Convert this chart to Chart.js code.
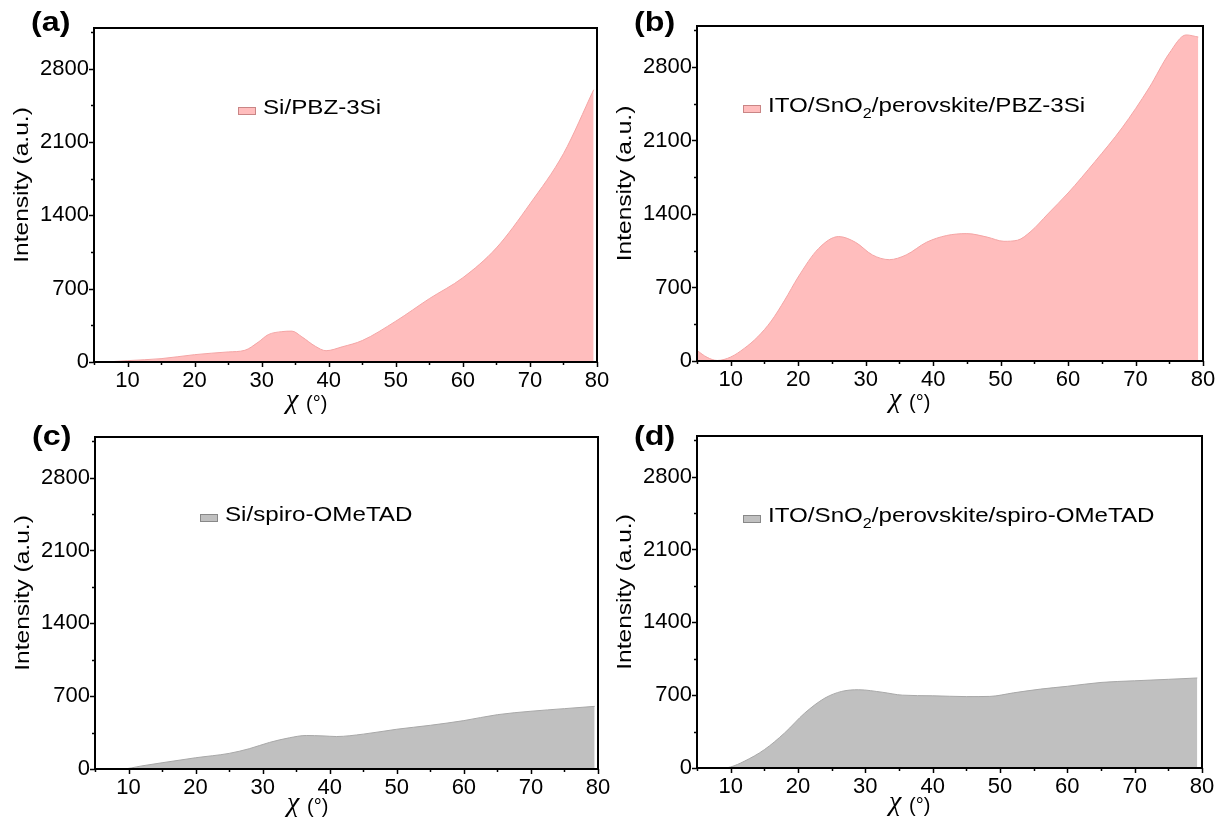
<!DOCTYPE html>
<html>
<head>
<meta charset="utf-8">
<script src="https://cdn.jsdelivr.net/npm/chart.js@4.4.0/dist/chart.umd.min.js"></script>
<style>
  body { margin: 0; background: #fff; width: 1225px; height: 830px; position: relative; overflow: hidden; }
  canvas { position: absolute; }
</style>
</head>
<body>
<canvas id="cA" width="612" height="422" style="left:0;top:0"></canvas>
<canvas id="cB" width="613" height="422" style="left:612px;top:0"></canvas>
<canvas id="cC" width="612" height="415" style="left:0;top:415px"></canvas>
<canvas id="cD" width="613" height="415" style="left:612px;top:415px"></canvas>
<script>
// tick labels
const chiTicks = [10, 20, 30, 40, 50, 60, 70, 80];
const intTicks = [0, 700, 1400, 2100, 2800];

// (a) Si/PBZ-3Si
const chiA = [6, 8, 10, 15, 20, 25, 27.5, 29.5, 31, 33, 34.5, 36, 38, 39.6, 42, 45, 50, 55, 60, 65, 70, 75, 79.5];
const intA = [0, 5, 13, 32, 70, 96, 112, 190, 262, 290, 295, 240, 150, 108, 145, 205, 390, 605, 805, 1090, 1510, 1990, 2600];

// (b) ITO/SnO2/perovskite/PBZ-3Si
const chiB = [5, 6.5, 8, 10, 12, 14, 16, 18, 20, 23, 26, 28.5, 31, 33.5, 36, 39, 42, 45, 48, 50.5, 52.5, 54.5, 57, 60, 64, 68, 72, 75, 77.5, 79.3];
const intB = [100, 35, 5, 38, 120, 230, 380, 580, 800, 1070, 1185, 1130, 1010, 965, 1010, 1130, 1195, 1213, 1180, 1140, 1150, 1235, 1400, 1600, 1900, 2220, 2600, 2930, 3105, 3085];

// (c) Si/spiro-OMeTAD
const chiC = [5, 9, 12, 15, 20, 25, 28, 31, 34, 36.5, 39, 41, 45, 50, 55, 60, 65, 70, 75, 79.5];
const intC = [0, 0, 30, 60, 108, 150, 195, 255, 300, 322, 318, 312, 335, 382, 420, 465, 522, 555, 580, 602];

// (d) ITO/SnO2/perovskite/spiro-OMeTAD
const chiD = [5, 9, 10, 12, 15, 18, 21, 24, 26.5, 29, 32.5, 35.5, 40, 45, 48.5, 52, 56, 60, 65, 70, 75, 79.3];
const intD = [0, 0, 10, 64, 176, 336, 528, 672, 736, 752, 728, 700, 694, 686, 688, 722, 758, 785, 822, 838, 852, 865];

const FONT = '"Liberation Sans", Arial, sans-serif';
const PINK = '#FFBDBD', GRAY = '#C0C0C0';

function stretchText(ctx, text, x, y, sx) {
  ctx.save();
  ctx.translate(x, y);
  ctx.scale(sx, 1);
  ctx.fillText(text, 0, 0);
  ctx.restore();
  return ctx.measureText(text).width * sx;
}

const decor = {
  id: 'decor',
  afterDraw(chart, args, o) {
    const { ctx, chartArea: a, scales } = chart;
    const xs = scales.x, ys = scales.y;
    ctx.save();
    ctx.strokeStyle = '#000';
    ctx.fillStyle = '#000';
    ctx.lineWidth = 1.5;
    // ticks (major + minor)
    for (let v = 5; v <= 80; v += 5) {
      const px = Math.round(xs.getPixelForValue(v)) + 0.5;
      const len = chiTicks.includes(v) ? 5 : 3;
      ctx.beginPath(); ctx.moveTo(px, a.bottom); ctx.lineTo(px, a.bottom + len); ctx.stroke();
    }
    for (let v = 0; v <= 3150; v += 350) {
      const py = Math.round(ys.getPixelForValue(v)) + 0.5;
      const len = intTicks.includes(v) ? 5 : 3;
      ctx.beginPath(); ctx.moveTo(a.left - len, py); ctx.lineTo(a.left, py); ctx.stroke();
    }
    // frame
    ctx.lineWidth = 2;
    ctx.strokeRect(a.left, a.top, a.right - a.left, a.bottom - a.top);

    // panel label
    ctx.textAlign = 'left';
    ctx.textBaseline = 'alphabetic';
    ctx.font = 'bold 28px ' + FONT;
    stretchText(ctx, o.label, a.left - 63, o.labelY, 1.15);

    // y title
    ctx.save();
    ctx.translate(a.left - 72, (a.top + a.bottom) / 2 - 10);
    ctx.rotate(-Math.PI / 2);
    ctx.font = '21px ' + FONT;
    ctx.textAlign = 'center';
    ctx.textBaseline = 'middle';
    ctx.scale(1.17, 1);
    ctx.fillText('Intensity (a.u.)', 0, 0);
    ctx.restore();

    // x title
    ctx.textAlign = 'left';
    ctx.font = 'italic 28px "Liberation Serif", serif';
    const xb = a.bottom + o.xTitleDy;
    ctx.fillText('\u03C7', a.left + 192, xb);
    ctx.font = '20px ' + FONT;
    ctx.fillText('(\u00B0)', a.left + 212, xb + 2);

    // legend
    const lx = a.left + o.legendDx, lb = a.top + o.legendDy;
    ctx.fillStyle = o.fill;
    ctx.fillRect(lx, lb - 7, 18, 8);
    ctx.lineWidth = 1;
    ctx.strokeStyle = o.edge;
    ctx.strokeRect(lx + 0.5, lb - 6.5, 17, 7);
    ctx.fillStyle = '#000';
    ctx.font = '21px ' + FONT;
    let tx = lx + 25;
    o.legend.forEach((part, i) => {
      if (i % 2 === 1) {
        ctx.font = '14px ' + FONT;
        tx += stretchText(ctx, part, tx, lb + 6, 1.15);
        ctx.font = '21px ' + FONT;
      } else {
        tx += stretchText(ctx, part, tx, lb, 1.15);
      }
    });
    ctx.restore();
  }
};

function makeChart(id, chi, inten, cfg) {
  const canvas = document.getElementById(id);
  const W = canvas.width, H = canvas.height;
  const a = cfg.area;
  return new Chart(canvas, {
    type: 'line',
    data: {
      datasets: [{
        data: chi.map((x, i) => ({ x: x, y: inten[i] })),
        fill: 'origin',
        backgroundColor: cfg.fill,
        borderColor: cfg.line,
        borderWidth: 1,
        pointRadius: 0,
        cubicInterpolationMode: 'monotone'
      }]
    },
    options: {
      responsive: false,
      animation: false,
      layout: { padding: { top: a.top, right: W - a.right, left: 0, bottom: 0 } },
      plugins: {
        legend: { display: false },
        tooltip: { enabled: false },
        decor: {
          label: cfg.label, labelY: cfg.labelY, xTitleDy: cfg.xTitleDy,
          legend: cfg.legend, legendDx: cfg.legendDx, legendDy: cfg.legendDy,
          fill: cfg.fill, edge: cfg.edge
        }
      },
      scales: {
        x: {
          type: 'linear', min: 5, max: 80,
          afterBuildTicks: s => { s.ticks = chiTicks.map(v => ({ value: v })); },
          afterFit: s => { s.height = H - a.bottom; },
          border: { display: false },
          grid: { drawOnChartArea: false, color: 'transparent', tickLength: 5 },
          ticks: { autoSkip: false, maxRotation: 0, padding: 1, color: '#000', font: { family: FONT, size: 22 },
                   callback: v => String(v) }
        },
        y: {
          type: 'linear', min: 0, max: 3190,
          afterBuildTicks: s => { s.ticks = intTicks.map(v => ({ value: v })); },
          afterFit: s => { s.width = a.left; },
          border: { display: false },
          grid: { drawOnChartArea: false, color: 'transparent', tickLength: 5 },
          ticks: { autoSkip: false, padding: 0, color: '#000', font: { family: FONT, size: 22 },
                   callback: v => String(v) }
        }
      }
    },
    plugins: [decor]
  });
}

makeChart('cA', chiA, intA, {
  area: { left: 94, right: 597, top: 28, bottom: 362 },
  label: '(a)', labelY: 31, xTitleDy: 46,
  legend: ['Si/PBZ-3Si'], legendDx: 144, legendDy: 86,
  fill: PINK, line: '#F4A5A5', edge: '#C98585'
});
makeChart('cB', chiB, intB, {
  area: { left: 85, right: 591, top: 26, bottom: 361 },
  label: '(b)', labelY: 31, xTitleDy: 46,
  legend: ['ITO/SnO', '2', '/perovskite/PBZ-3Si'], legendDx: 46, legendDy: 86,
  fill: PINK, line: '#F4A5A5', edge: '#C98585'
});
makeChart('cC', chiC, intC, {
  area: { left: 95, right: 598, top: 22, bottom: 354 },
  label: '(c)', labelY: 30, xTitleDy: 42,
  legend: ['Si/spiro-OMeTAD'], legendDx: 105, legendDy: 84,
  fill: GRAY, line: '#A8A8A8', edge: '#888888'
});
makeChart('cD', chiD, intD, {
  area: { left: 85, right: 590, top: 21, bottom: 353 },
  label: '(d)', labelY: 30, xTitleDy: 42,
  legend: ['ITO/SnO', '2', '/perovskite/spiro-OMeTAD'], legendDx: 46, legendDy: 86,
  fill: GRAY, line: '#A8A8A8', edge: '#888888'
});
</script>
</body>
</html>
